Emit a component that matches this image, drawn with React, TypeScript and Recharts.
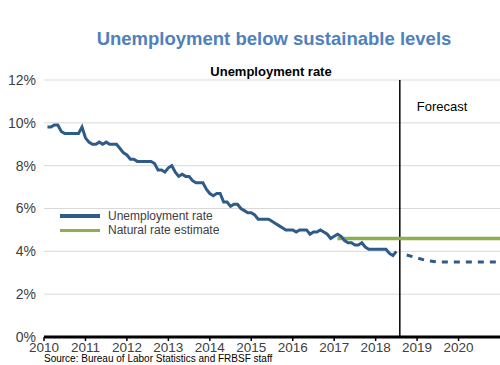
import { LineChart, Line, XAxis, YAxis, CartesianGrid, ReferenceLine, Legend } from 'recharts'

const FONT = "Arial, 'Liberation Sans', sans-serif"
const BLUE = '#2f5b89'
const GREEN = '#8cb04b'

// monthly unemployment rate, Jan..Dec
const years = [2010, 2011, 2012, 2013, 2014, 2015, 2016, 2017, 2018]
const rates = [
  [9.8, 9.8, 9.9, 9.9, 9.6, 9.5, 9.5, 9.5, 9.5, 9.5, 9.8, 9.3],
  [9.1, 9.0, 9.0, 9.1, 9.0, 9.1, 9.0, 9.0, 9.0, 8.8, 8.6, 8.5],
  [8.3, 8.3, 8.2, 8.2, 8.2, 8.2, 8.2, 8.1, 7.8, 7.8, 7.7, 7.9],
  [8.0, 7.7, 7.5, 7.6, 7.5, 7.5, 7.3, 7.2, 7.2, 7.2, 6.9, 6.7],
  [6.6, 6.7, 6.7, 6.3, 6.3, 6.1, 6.2, 6.2, 6.0, 5.9, 5.8, 5.8],
  [5.7, 5.5, 5.5, 5.5, 5.5, 5.4, 5.3, 5.2, 5.1, 5.0, 5.0, 5.0],
  [4.9, 5.0, 5.0, 5.0, 4.8, 4.9, 4.9, 5.0, 4.9, 4.8, 4.6, 4.7],
  [4.8, 4.7, 4.5, 4.4, 4.4, 4.3, 4.3, 4.4, 4.2, 4.1, 4.1, 4.1],
  [4.1, 4.1, 4.1, 3.9, 3.8, 4.0],
]

const forecastX = [2018.75, 2019, 2019.25, 2019.5, 2019.75, 2020, 2020.25, 2020.5, 2020.75, 2021]
const forecastY = [3.83, 3.69, 3.56, 3.5, 3.5, 3.5, 3.5, 3.5, 3.5, 3.5]

const naturalX = [2017.08, 2021]
const naturalY = [4.6, 4.6]

const forecastStart = 2018 + 7 / 12
const xTicks = [2010, 2011, 2012, 2013, 2014, 2015, 2016, 2017, 2018, 2019, 2020]
const yTicks = [0, 2, 4, 6, 8, 10, 12]
const legendOrder = ['Unemployment rate', 'Natural rate estimate']

const actual = years.flatMap((yr, i) => rates[i].map((v, m) => ({ x: yr + (m + 1) / 12, v })))
const forecast = forecastX.map((x, i) => ({ x, v: forecastY[i] }))
const natural = naturalX.map((x, i) => ({ x, v: naturalY[i] }))

function LegendBox({ payload }: any) {
  const items = (payload || [])
    .filter((p: any) => legendOrder.includes(p.value))
    .sort((a: any, b: any) => legendOrder.indexOf(a.value) - legendOrder.indexOf(b.value))
  return (
    <div style={{ fontFamily: FONT, fontSize: 12, color: '#404040' }}>
      {items.map((p: any) => (
        <div key={p.value} style={{ display: 'flex', alignItems: 'center', height: 14.3 }}>
          <span style={{ display: 'inline-block', width: 40, height: 3.5, background: p.color, marginRight: 8 }} />
          <span>{p.value}</span>
        </div>
      ))}
    </div>
  )
}

export default function App() {
  return (
    <div style={{ position: 'absolute', left: 0, top: 0, width: 500, height: 365, background: '#fff', fontFamily: FONT }}>
      <div style={{ position: 'absolute', left: 0, width: 548, top: 30.3, textAlign: 'center', fontSize: 18.5, lineHeight: 1, fontWeight: 'bold', color: '#4f81bd' }}>
        Unemployment below sustainable levels
      </div>
      <div style={{ position: 'absolute', left: 0, width: 542, top: 64.7, textAlign: 'center', fontSize: 13, lineHeight: 1, fontWeight: 'bold', color: '#000' }}>
        Unemployment rate
      </div>
      <LineChart width={500} height={365} margin={{ top: 80, right: 0, bottom: 0, left: 0 }}>
        <CartesianGrid vertical={false} stroke="#d9d9d9" />
        <XAxis
          dataKey="x"
          type="number"
          domain={[2010, 2021]}
          ticks={xTicks}
          interval={0}
          allowDataOverflow
          height={28}
          axisLine={{ stroke: '#000', strokeWidth: 3 }}
          tickLine={{ stroke: '#000', strokeWidth: 1.5 }}
          tickSize={4}
          tickMargin={1}
          tick={{ fill: '#404040', fontSize: 13.5, fontFamily: FONT }}
        />
        <YAxis
          type="number"
          domain={[0, 12]}
          ticks={yTicks}
          interval={0}
          width={44}
          axisLine={false}
          tickLine={false}
          tick={{ fill: '#404040', fontSize: 14, fontFamily: FONT }}
          tickFormatter={v => `${v}%`}
        />
        <ReferenceLine
          x={forecastStart}
          stroke="#000"
          strokeWidth={1.5}
          label={({ viewBox }: any) => (
            <text x={viewBox.x + 17} y={110.7} fontSize={13} fontFamily={FONT} fill="#000">Forecast</text>
          )}
        />
        <Line data={natural} dataKey="v" name="Natural rate estimate" stroke={GREEN} strokeWidth={3.5} dot={false} isAnimationActive={false} />
        <Line data={actual} dataKey="v" name="Unemployment rate" type="linear" stroke={BLUE} strokeWidth={3} dot={false} isAnimationActive={false} />
        <Line data={forecast} dataKey="v" name="Forecast" legendType="none" stroke={BLUE} strokeWidth={3} strokeDasharray="6 6" dot={false} isAnimationActive={false} />
        <Legend layout="vertical" align="center" verticalAlign="middle" content={LegendBox} wrapperStyle={{ left: 60, top: 209, width: 'auto' }} />
      </LineChart>
      <div style={{ position: 'absolute', left: 44, top: 354.2, fontSize: 10, lineHeight: 1, color: '#000' }}>
        Source: Bureau of Labor Statistics and FRBSF staff
      </div>
    </div>
  )
}
